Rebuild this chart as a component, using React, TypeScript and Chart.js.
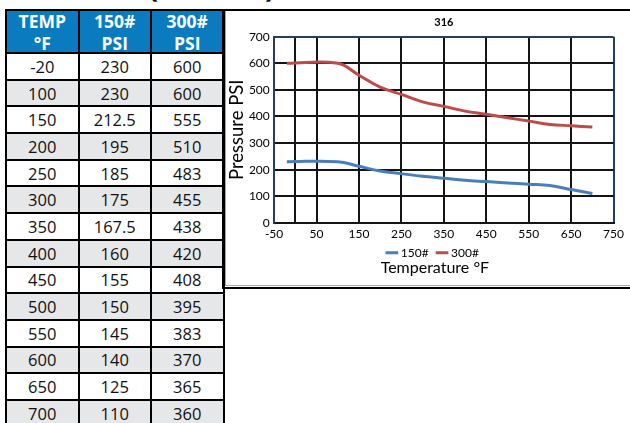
import React, { useEffect, useRef } from "react";
import { Chart, registerables } from "chart.js";

Chart.register(...registerables);

// ---- data ----
const temps = [-20, 100, 150, 200, 250, 300, 350, 400, 450, 500, 550, 600, 650, 700];
const psi150 = [230, 230, 212.5, 195, 185, 175, 167.5, 160, 155, 150, 145, 140, 125, 110];
const psi300 = [600, 600, 555, 510, 483, 455, 438, 420, 408, 395, 383, 370, 365, 360];
const seriesNames = ["150#", "300#"];
const headerLines = [
  ["TEMP", "°F"],
  ["150#", "PSI"],
  ["300#", "PSI"],
];
const xTickValues = [-50, 0, 50, 150, 250, 350, 450, 550, 650, 750];
const chartTitle = "316";
const xAxisTitle = "Temperature °F";
const yAxisTitle = "Pressure PSI";

const BLUE = "#4a7ebb";
const RED = "#be4b48";
const NAVY = "#243f60";
const GRID = "#141414";
const CHART_FONT = "Lato";

// shifts the bottom legend / axis caption so they sit like the original layout
const nudgePlugin = {
  id: "nudgeBoxes",
  afterLayout(chart: any) {
    const lg = chart.legend;
    if (lg) {
      lg.top -= 8.8;
      lg.bottom -= 8.8;
      lg.left += 13;
      lg.right += 13;
    }
    chart.boxes.forEach((b: any) => {
      if (b !== lg && b.options && b.options.text === xAxisTitle) {
        b.left += 14;
        b.right += 14;
      }
    });
  },
};

const App = () => {
  const canvasRef = useRef<HTMLCanvasElement>(null);

  useEffect(() => {
    const canvas = canvasRef.current;
    if (!canvas) return;
    const chart = new Chart(canvas, {
      type: "line",
      data: {
        datasets: [
          {
            label: seriesNames[0],
            data: temps.map((t, i) => ({ x: t, y: psi150[i] })),
            borderColor: BLUE,
            backgroundColor: BLUE,
            borderWidth: 3,
            pointRadius: 0,
            tension: 0.4,
            fill: false,
          },
          {
            label: seriesNames[1],
            data: temps.map((t, i) => ({ x: t, y: psi300[i] })),
            borderColor: RED,
            backgroundColor: RED,
            borderWidth: 3,
            pointRadius: 0,
            tension: 0.4,
            fill: false,
          },
        ],
      },
      plugins: [nudgePlugin],
      options: {
        animation: false,
        responsive: true,
        maintainAspectRatio: false,
        layout: { padding: { left: 0, right: 11.3, top: 0, bottom: 8.4 } },
        plugins: {
          title: {
            display: true,
            text: chartTitle,
            fullSize: false,
            color: "#000",
            font: { family: CHART_FONT, size: 11, weight: "bold" },
            padding: { top: 3.4, bottom: 8.1 },
          },
          subtitle: {
            display: true,
            position: "bottom",
            text: xAxisTitle,
            color: "#000",
            font: { family: CHART_FONT, size: 16 },
            padding: { top: -19.7, bottom: 0 },
          },
          legend: {
            position: "bottom",
            labels: {
              usePointStyle: true,
              pointStyle: "line",
              boxWidth: 6,
              boxHeight: 9,
              padding: 10.4,
              color: "#000",
              font: { family: CHART_FONT, size: 12 },
            },
          },
          tooltip: { enabled: false },
        },
        scales: {
          x: {
            type: "linear",
            min: -50,
            max: 750,
            afterBuildTicks: (axis: any) => {
              axis.ticks = xTickValues.map((v) => ({ value: v }));
            },
            ticks: {
              autoSkip: false,
              maxRotation: 0,
              padding: 4,
              color: "#000",
              font: { family: CHART_FONT, size: 12 },
              callback: (value: any) => (value === 0 ? "" : String(value)),
            },
            grid: {
              color: (ctx: any) => (ctx.tick && ctx.tick.value === 750 ? NAVY : GRID),
              lineWidth: 2,
              drawTicks: false,
            },
            border: { color: GRID, width: 2 },
          },
          y: {
            min: 0,
            max: 700,
            ticks: {
              stepSize: 100,
              padding: 4.3,
              color: "#000",
              font: { family: CHART_FONT, size: 12 },
            },
            grid: {
              color: (ctx: any) => (ctx.tick && ctx.tick.value === 700 ? NAVY : GRID),
              lineWidth: 2,
              drawTicks: false,
            },
            border: { color: NAVY, width: 2 },
            title: {
              display: true,
              text: yAxisTitle,
              color: "#000",
              font: { family: CHART_FONT, size: 18.5 },
              padding: { top: 0.6, bottom: -3.2 },
            },
          },
        },
      } as any,
    });
    return () => chart.destroy();
  }, []);

  const cellBase: React.CSSProperties = {
    display: "flex",
    alignItems: "center",
    justifyContent: "center",
    fontSize: 16.5,
    color: "#111",
  };

  return (
    <div
      style={{
        position: "absolute",
        left: 0,
        top: 0,
        width: 630,
        height: 423,
        overflow: "hidden",
        background: "#fff",
        fontFamily: '"Open Sans", sans-serif',
      }}
    >
      {/* cut-off heading parentheses */}
      <span style={{ position: "absolute", left: 148, top: -29, fontSize: 30, lineHeight: "30px", fontWeight: 700, color: "#111" }}>(</span>
      <span style={{ position: "absolute", left: 265, top: -29, fontSize: 30, lineHeight: "30px", fontWeight: 700, color: "#111" }}>)</span>

      {/* table */}
      <div
        style={{
          position: "absolute",
          left: 5,
          top: 9,
          display: "grid",
          gridTemplateColumns: "70.5px 70.5px 70.5px",
          gridTemplateRows: "41px repeat(14, 24.7px)",
          gap: 2,
          padding: 2,
          background: "#000",
        }}
      >
        {headerLines.map((lines, i) => (
          <div
            key={"h" + i}
            style={{
              display: "flex",
              flexDirection: "column",
              alignItems: "center",
              justifyContent: "center",
              background: "#0a7bbf",
              color: "#fff",
              fontWeight: 700,
              fontSize: 17.5,
              lineHeight: "22px",
            }}
          >
            <span>{lines[0]}</span>
            <span>{lines[1]}</span>
          </div>
        ))}
        {temps.map((t, r) => {
          const bg = r % 2 === 0 ? "#ffffff" : "#e6e7e8";
          return [
            <div key={"a" + r} style={{ ...cellBase, background: bg }}>{String(t)}</div>,
            <div key={"b" + r} style={{ ...cellBase, background: bg }}>{String(psi150[r])}</div>,
            <div key={"c" + r} style={{ ...cellBase, background: bg }}>{String(psi300[r])}</div>,
          ];
        })}
      </div>

      {/* chart box */}
      <div
        style={{
          position: "absolute",
          left: 222,
          top: 9,
          width: 420,
          height: 280,
          boxSizing: "border-box",
          borderTop: "2px solid #000",
          borderBottom: "2px solid #000",
          borderLeft: "2px solid #000",
        }}
      />
      <div
        style={{
          position: "absolute",
          left: 225,
          top: 11,
          width: 420,
          height: 275,
          boxSizing: "border-box",
          borderLeft: "1px solid #a6a6a6",
          borderBottom: "1px solid #a6a6a6",
        }}
      />
      <div style={{ position: "absolute", left: 225, top: 12, width: 403, height: 274 }}>
        <canvas ref={canvasRef} />
      </div>
    </div>
  );
};

export default App;
